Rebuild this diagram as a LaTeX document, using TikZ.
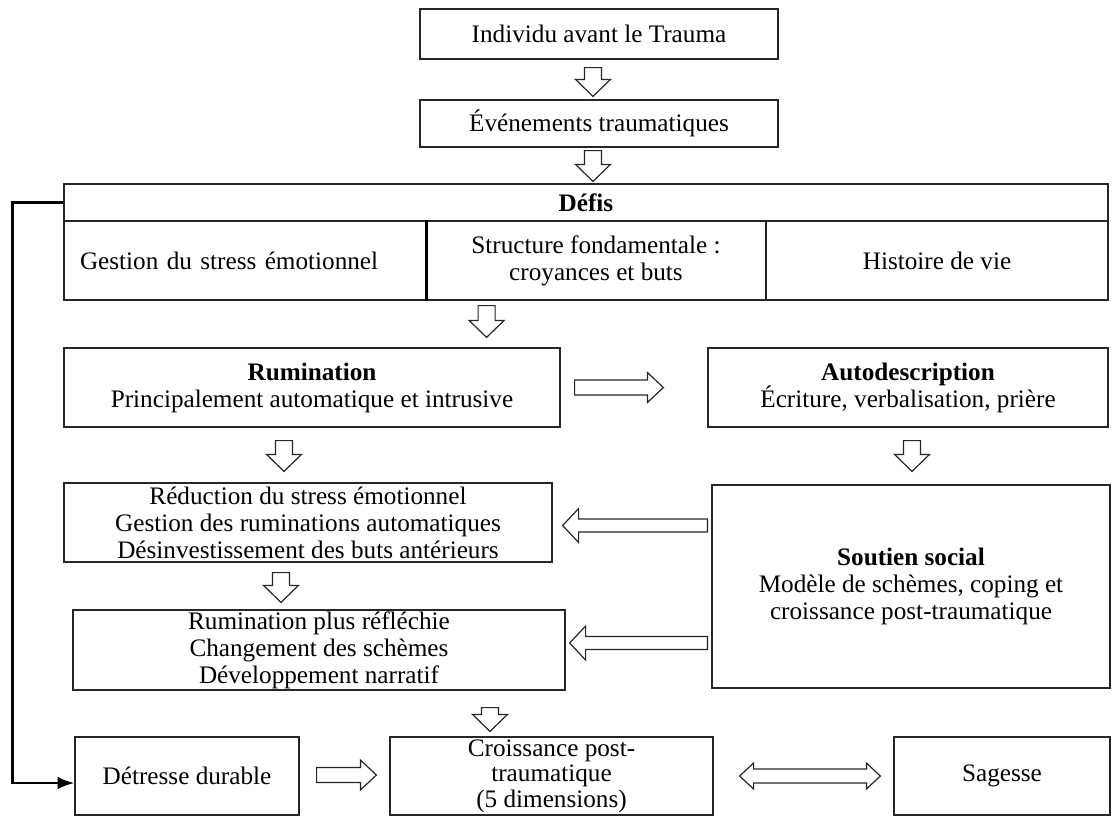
\documentclass[tikz,border=0pt]{standalone}
\usepackage{fontspec}
\setmainfont{Liberation Serif}
\usetikzlibrary{calc}
\usetikzlibrary{arrows.meta}

\begin{document}
\begin{tikzpicture}[x=0.5pt,y=-0.5pt,>=Latex,
    box/.style={draw=black!85, line width=0.6pt, align=center, inner sep=0pt,
      font=\fontsize{12.6}{13.5}\selectfont},
    blk/.style={draw=black!85, line width=0.6pt, fill=white},
    downblk/.style={blk, to path={let \p1=(\tikztostart), \p2=(\tikztotarget) in
      (\x1-4.25pt,\y1) -- (\x1+4.25pt,\y1) -- (\x1+4.25pt,\y2+8.5pt) -- (\x1+8.75pt,\y2+8.5pt)
      -- (\x1,\y2) -- (\x1-8.75pt,\y2+8.5pt) -- (\x1-4.25pt,\y2+8.5pt) -- cycle}},
    rblk/.style={blk, to path={let \p1=(\tikztostart), \p2=(\tikztotarget) in
      (\x1,\y1-3.75pt) -- (\x2-8pt,\y1-3.75pt) -- (\x2-8pt,\y1-7.5pt) -- (\x2,\y1)
      -- (\x2-8pt,\y1+7.5pt) -- (\x2-8pt,\y1+3.75pt) -- (\x1,\y1+3.75pt) -- cycle}},
    lblk/.style={blk, to path={let \p1=(\tikztostart), \p2=(\tikztotarget) in
      (\x1,\y1-3.25pt) -- (\x2+8pt,\y1-3.25pt) -- (\x2+8pt,\y1-8.5pt) -- (\x2,\y1)
      -- (\x2+8pt,\y1+8.5pt) -- (\x2+8pt,\y1+3.25pt) -- (\x1,\y1+3.25pt) -- cycle}},
    dblk/.style={blk, to path={let \p1=(\tikztostart), \p2=(\tikztotarget) in
      (\x1,\y1) -- (\x1+7pt,\y1+6.5pt) -- (\x1+7pt,\y1+3.5pt) -- (\x2-7pt,\y1+3.5pt)
      -- (\x2-7pt,\y1+6.5pt) -- (\x2,\y1) -- (\x2-7pt,\y1-6.5pt) -- (\x2-7pt,\y1-3.5pt)
      -- (\x1+7pt,\y1-3.5pt) -- (\x1+7pt,\y1-6.5pt) -- cycle}}]
  \useasboundingbox (0,0) rectangle (1118,816);

  % top of the chain
  \node[box, minimum width=179pt, minimum height=25pt] (indiv) at (599,34) {Individu avant le Trauma};
  \node[box, minimum width=179pt, minimum height=23.5pt] (evt) at (599,123.5) {Événements traumatiques};

  % defis table
  \node[box, minimum width=522pt, minimum height=18.5pt] (defis) at (586,202.5) {\textbf{Défis}};
  \node[box, text width=165pt, align=left, inner xsep=8pt, minimum height=39.5pt] (gest) at (245,260.5) {Gestion du stress émotionnel};
  \node[box, minimum width=170pt, minimum height=39.5pt] (struct) at (596,260.5) {Structure fondamentale :\\croyances et buts};
  \node[box, minimum width=171pt, minimum height=39.5pt] (hist) at (937,260.5) {Histoire de vie};
  \draw[line width=1.2pt] (gest.north east) -- (gest.south east);

  \node[box, minimum width=248pt, minimum height=39.5pt] (rum) at (312,387.5) {\textbf{Rumination}\\Principalement automatique et intrusive};
  \node[box, minimum width=200pt, minimum height=39.5pt] (auto) at (908,387.5) {\textbf{Autodescription}\\Écriture, verbalisation, prière};

  \node[box, minimum width=244pt, minimum height=39.5pt] (reduc) at (308,522.5) {Réduction du stress émotionnel\\Gestion des ruminations automatiques\\Désinvestissement des buts antérieurs};
  \node[box, minimum width=199pt, minimum height=101.5pt] (soutien) at (911,586.5) {\textbf{Soutien social}\\Modèle de schèmes, coping et\\croissance post-traumatique};
  \node[box, minimum width=246pt, minimum height=40pt] (reflex) at (319,650) {Rumination plus réfléchie\\Changement des schèmes\\Développement narratif};

  % outcomes
  \node[box, minimum width=112pt, minimum height=39pt] (detresse) at (187,776) {Détresse durable};
  \node[box, font=\fontsize{12.6}{12.8}\selectfont, minimum width=161.5pt, minimum height=39pt] (croiss) at (551.5,776) {Croissance post-\\traumatique\\(5 dimensions)};
  \node[box, minimum width=108pt, minimum height=39pt] (sagesse) at (1002,776) {Sagesse};

  % block arrows
  \draw[downblk] ($(indiv.south)+(-6,8)$) to ($(evt.north)+(0,-3)$);
  \draw[downblk] ($(evt.south)+(-6,3)$) to ($(defis.north)+(0,-2)$);
  \draw[downblk] ($(gest.south east)+(60,5)$) to ($(rum.north)+(0,-10)$);
  \draw[downblk] ($(rum.south)+(-28,13)$) to ($(reduc.north)+(0,-11)$);
  \draw[downblk] ($(auto.south)+(4,13)$) to ($(soutien.north)+(0,-13)$);
  \draw[downblk] ($(reduc.south)+(-27,10)$) to ($(reflex.north)+(0,-7)$);
  \draw[downblk] ($(reflex.south)+(171,17)$) to ($(croiss.north)+(0,-5)$);
  \draw[rblk] ($(rum.east)+(14,0)$) to ($(auto.west)+(-44,0)$);
  \draw[lblk] ($(soutien.west |- reduc.east)+(-4,3)$) to ($(reduc.east)+(10,3)$);
  \draw[lblk] ($(soutien.west |- reflex.east)+(-4,-7)$) to ($(reflex.east)+(4,-7)$);
  \draw[rblk] ($(detresse.east)+(17,-1)$) to ($(croiss.west)+(-13,-1)$);
  \draw[dblk] ($(croiss.east)+(26,0)$) to ($(sagesse.west)+(-13,0)$);

  % feedback line
  \draw[->, line width=1.2pt] (defis.west) -- ++(-51,0) |- ($(detresse.west)+(0,7)$);
\end{tikzpicture}
\end{document}
